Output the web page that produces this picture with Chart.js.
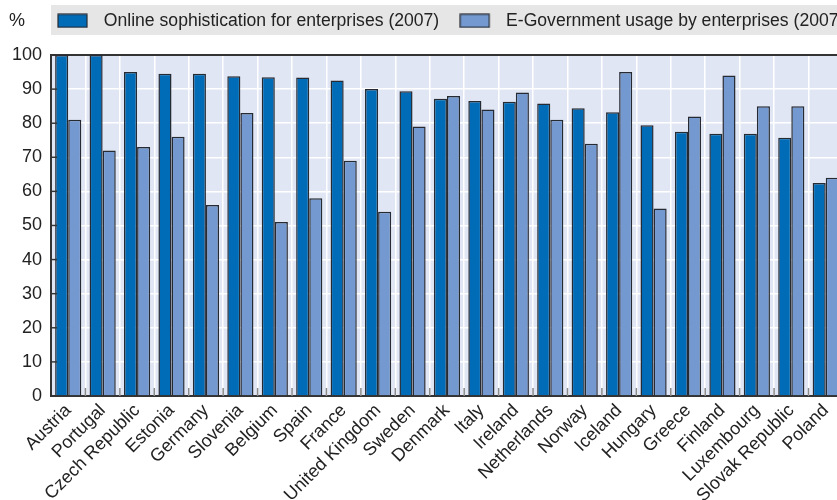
<!DOCTYPE html>
<html>
<head>
<meta charset="utf-8">
<script src="https://cdn.jsdelivr.net/npm/chart.js@4"></script>
<style>
html, body { margin: 0; padding: 0; background: #fff; overflow: hidden; }
#wrap { width: 845px; height: 500px; }
</style>
</head>
<body>
<div id="wrap"><canvas id="barChart" width="845" height="500"></canvas></div>
<script>
var countries = ['Austria', 'Portugal', 'Czech Republic', 'Estonia', 'Germany', 'Slovenia', 'Belgium', 'Spain',
    'France', 'United Kingdom', 'Sweden', 'Denmark', 'Italy', 'Ireland', 'Netherlands', 'Norway', 'Iceland',
    'Hungary', 'Greece', 'Finland', 'Luxembourg', 'Slovak Republic', 'Poland'];
var onlineSophistication = [100, 100, 95, 94.5, 94.5, 93.8, 93.5, 93.4, 92.5, 90, 89.4, 87.2, 86.5, 86.3, 85.8,
    84.4, 83.2, 79.4, 77.5, 76.9, 76.9, 75.7, 62.5];
var eGovUsage = [81, 72, 73, 76, 56, 83, 51, 58, 69, 54, 79, 88, 84, 89, 81, 74, 95, 55, 82, 94, 85, 85, 64];
var yMin = 0, yMax = 100, yStep = 10;

var FONT = "'Liberation Sans Narrow', 'Liberation Sans', Arial, sans-serif";
var darkBlue = '#006bb6';
var lightBlue = '#7399d0';
var edge = '#262a33';

// legend swatch: 30px box plus some blank space before the text
function swatch(color) {
    var c = document.createElement('canvas');
    c.width = 38;
    c.height = 15;
    var g = c.getContext('2d');
    g.fillStyle = color;
    g.fillRect(1, 1, 29, 13);
    g.strokeStyle = edge;
    g.lineWidth = 1.2;
    g.strokeRect(1, 1, 29, 13);
    return c;
}
var swatches = [swatch(darkBlue), swatch(lightBlue)];

var backdrop = {
    id: 'backdrop',
    beforeInit: function (chart) {
        var fit = chart.legend.fit;
        chart.legend.fit = function () {
            fit.call(this);
            this.height = 63;
        };
    },
    afterUpdate: function (chart) {
        // move legend right of the "%" label, keep it on one row
        chart.legend.left += 37;
        chart.legend.right += 120;
    },
    beforeDraw: function (chart) {
        var ctx = chart.ctx, a = chart.chartArea;
        ctx.save();
        ctx.fillStyle = '#e6e6e6';
        ctx.fillRect(a.left, 5, chart.width - a.left, 30);
        ctx.fillStyle = '#e0e6f3';
        ctx.fillRect(a.left, a.top, a.right - a.left, a.bottom - a.top);
        ctx.fillStyle = '#222';
        ctx.font = '18px ' + FONT;
        ctx.textBaseline = 'middle';
        ctx.fillText('%', 9, 21);
        ctx.restore();
    },
    afterDatasetsDraw: function (chart) {
        var ctx = chart.ctx, a = chart.chartArea;
        var xs = chart.scales.x, ys = chart.scales.y;
        ctx.save();
        // small inner ticks on the y axis
        ctx.strokeStyle = '#333';
        ctx.lineWidth = 1.5;
        ys.ticks.forEach(function (t) {
            var py = ys.getPixelForValue(t.value);
            ctx.beginPath();
            ctx.moveTo(a.left, py);
            ctx.lineTo(a.left + 6, py);
            ctx.stroke();
        });
        // small grey ticks between categories
        var half = (xs.getPixelForTick(1) - xs.getPixelForTick(0)) / 2;
        ctx.strokeStyle = '#8a8a8a';
        for (var i = 1; i < countries.length; i++) {
            var px = xs.getPixelForTick(i) - half;
            ctx.beginPath();
            ctx.moveTo(px, a.bottom);
            ctx.lineTo(px, a.bottom - 8);
            ctx.stroke();
        }
        ctx.restore();
    }
};

var ctx = document.getElementById('barChart').getContext('2d');
var myBarChart = new Chart(ctx, {
    type: 'bar',
    data: {
        labels: countries,
        datasets: [{
            label: 'Online sophistication for enterprises (2007)',
            data: onlineSophistication,
            backgroundColor: darkBlue,
            borderColor: edge,
            borderWidth: 1.5,
            categoryPercentage: 0.76,
            barPercentage: 1
        }, {
            label: 'E-Government usage by enterprises (2007)',
            data: eGovUsage,
            backgroundColor: lightBlue,
            borderColor: edge,
            borderWidth: 1.5,
            categoryPercentage: 0.76,
            barPercentage: 1
        }]
    },
    plugins: [backdrop],
    options: {
        responsive: false,
        animation: false,
        devicePixelRatio: 1,
        layout: { padding: { top: -8, left: 0, right: 0, bottom: 0 } },
        plugins: {
            tooltip: { enabled: false },
            legend: {
                position: 'top',
                align: 'start',
                labels: {
                    usePointStyle: true,
                    pointStyleWidth: 38,
                    boxHeight: 14,
                    padding: 20,
                    color: '#222',
                    font: { family: FONT, size: 17.6 },
                    generateLabels: function (chart) {
                        var items = Chart.defaults.plugins.legend.labels.generateLabels(chart);
                        items.forEach(function (it, i) { it.pointStyle = swatches[i]; });
                        return items;
                    }
                }
            }
        },
        scales: {
            x: {
                ticks: {
                    color: '#222',
                    font: { family: FONT, size: 18 },
                    maxRotation: 45,
                    minRotation: 45,
                    autoSkip: false,
                    padding: 4
                },
                grid: { color: '#fff', lineWidth: 1.5, drawTicks: false, offset: true },
                border: { color: '#333', width: 2 },
                afterFit: function (s) { s.height = 104; }
            },
            y: {
                min: yMin,
                max: yMax,
                ticks: {
                    stepSize: yStep,
                    color: '#222',
                    font: { family: FONT, size: 18 },
                    padding: 9
                },
                grid: {
                    color: function (c) {
                        return (c.tick && (c.tick.value === yMax || c.tick.value === yMin)) ? '#333' : '#fff';
                    },
                    lineWidth: function (c) {
                        return (c.tick && c.tick.value === yMax) ? 2 : 1.5;
                    },
                    drawTicks: false
                },
                border: { color: '#333', width: 2 },
                afterFit: function (s) { s.width = 51; }
            }
        }
    }
});
</script>
</body>
</html>
